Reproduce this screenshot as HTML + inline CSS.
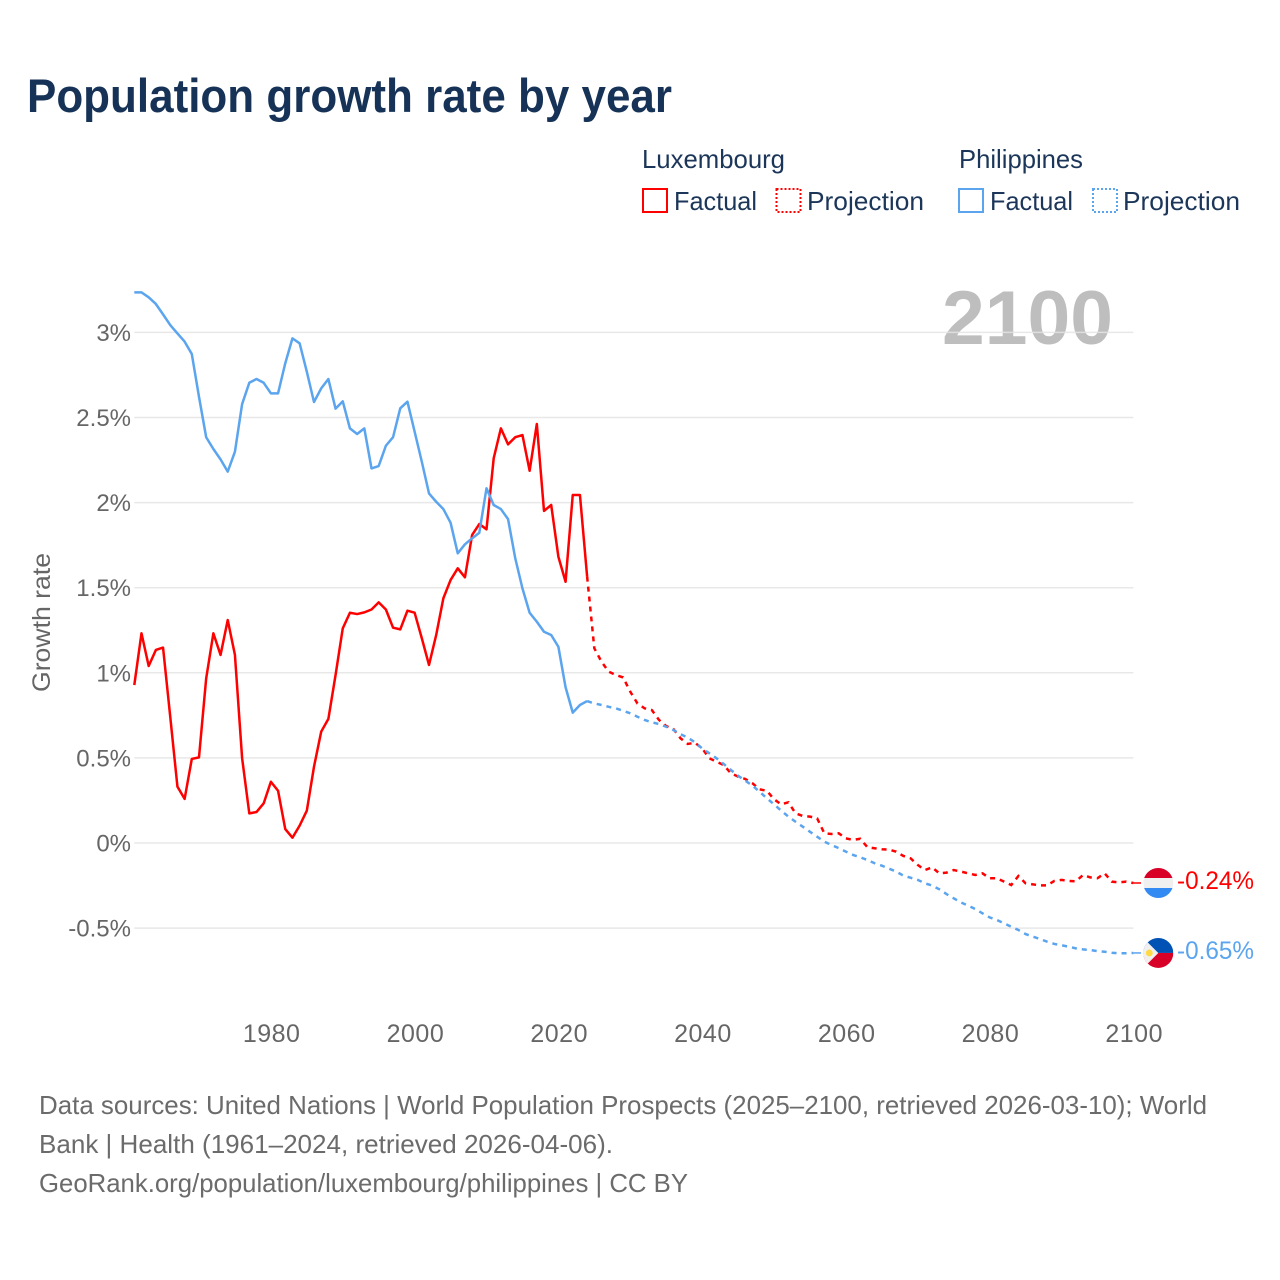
<!DOCTYPE html>
<html lang="en">
<head>
<meta charset="utf-8">
<title>Population growth rate by year</title>
<style>
html,body{margin:0;padding:0;background:#fff;width:1280px;height:1280px;overflow:hidden}
svg{display:block;font-family:"Liberation Sans",sans-serif}
</style>
</head>
<body>
<svg id="chart" xmlns="http://www.w3.org/2000/svg" width="1280" height="1280" viewBox="0 0 1280 1280">
  <defs>
    <clipPath id="flag-clip"><circle cx="0" cy="0" r="15"/></clipPath>
  </defs>
  <rect x="0" y="0" width="1280" height="1280" fill="#ffffff"/>
  <text x="27" y="112" font-size="47" font-weight="700" fill="#163256" textLength="645" lengthAdjust="spacingAndGlyphs">Population growth rate by year</text>

  <g font-size="26" fill="#1c3659">
    <text x="642" y="168" textLength="143" lengthAdjust="spacingAndGlyphs">Luxembourg</text>
    <text x="959" y="168" textLength="124" lengthAdjust="spacingAndGlyphs">Philippines</text>
    <rect x="643" y="189" width="24" height="23" fill="none" stroke="#ff0000" stroke-width="2"/>
    <text x="674" y="210" textLength="83" lengthAdjust="spacingAndGlyphs">Factual</text>
    <rect x="776.5" y="189" width="24" height="23" fill="none" stroke="#ff0000" stroke-width="2" stroke-dasharray="2 2"/>
    <text x="807" y="210" textLength="117" lengthAdjust="spacingAndGlyphs">Projection</text>
    <rect x="959" y="189" width="24" height="23" fill="none" stroke="#5ba4ee" stroke-width="2"/>
    <text x="990" y="210" textLength="83" lengthAdjust="spacingAndGlyphs">Factual</text>
    <rect x="1093" y="189" width="24" height="23" fill="none" stroke="#5ba4ee" stroke-width="2" stroke-dasharray="2 2"/>
    <text x="1123" y="210" textLength="117" lengthAdjust="spacingAndGlyphs">Projection</text>
  </g>

  <text x="942" y="344" font-size="76" font-weight="700" fill="#bebebe" textLength="171" lengthAdjust="spacingAndGlyphs">2100</text>

  <g id="grid"></g>
  <g id="yticks" font-size="24" fill="#666666" text-anchor="end"></g>
  <g id="xticks" font-size="25" fill="#666666" text-anchor="middle"></g>
  <text transform="translate(50 692) rotate(-90)" font-size="25" fill="#666666" textLength="139" lengthAdjust="spacingAndGlyphs">Growth rate</text>

  <g id="series"></g>

  <g id="flag-lux">
    <g clip-path="url(#flag-clip)">
      <rect x="-15" y="-15" width="30" height="30" fill="#f0f0f0"/>
      <rect x="-15" y="-15" width="30" height="10" fill="#d80027"/>
      <rect x="-15" y="5" width="30" height="10" fill="#338af3"/>
    </g>
  </g>
  <g id="flag-phl">
    <g clip-path="url(#flag-clip)">
      <rect x="-15" y="-15" width="30" height="15" fill="#0052b4"/>
      <rect x="-15" y="0" width="30" height="15" fill="#d80027"/>
      <polygon points="-15,-15 0,0 -15,15" fill="#f0f0f0"/>
      <circle cx="-9" cy="0" r="3.4" fill="#ffda44"/>
    </g>
  </g>
  <text id="label-lux" x="1177" font-size="25" fill="#ff0000" textLength="77" lengthAdjust="spacingAndGlyphs"></text>
  <text id="label-phl" x="1177" font-size="25" fill="#5ba4ee" textLength="77" lengthAdjust="spacingAndGlyphs"></text>

  <g font-size="26" fill="#6b6b6b">
    <text x="39" y="1114" textLength="1168" lengthAdjust="spacingAndGlyphs">Data sources: United Nations | World Population Prospects (2025–2100, retrieved 2026-03-10); World</text>
    <text x="39" y="1153" textLength="574" lengthAdjust="spacingAndGlyphs">Bank | Health (1961–2024, retrieved 2026-04-06).</text>
    <text x="39" y="1192" textLength="649" lengthAdjust="spacingAndGlyphs">GeoRank.org/population/luxembourg/philippines | CC BY</text>
  </g>
</svg>
<script>
const factualStartYear = 1961;
const projectionStartYear = 2024;
const yTickValues = [3, 2.5, 2, 1.5, 1, 0.5, 0, -0.5];
const yTickLabels = ['3%', '2.5%', '2%', '1.5%', '1%', '0.5%', '0%', '-0.5%'];
const xTickYears = [1980, 2000, 2020, 2040, 2060, 2080, 2100];
const endLabelLux = '-0.24%';
const endLabelPhl = '-0.65%';

const luxFactual = [0.928,1.232,1.04,1.134,1.148,0.742,0.331,0.259,0.494,0.503,0.967,1.232,1.105,1.31,1.105,0.498,0.174,0.182,0.233,0.36,0.307,0.082,0.031,0.102,0.19,0.448,0.654,0.729,0.987,1.261,1.353,1.345,1.355,1.372,1.414,1.372,1.265,1.255,1.365,1.353,1.203,1.046,1.222,1.438,1.545,1.614,1.561,1.81,1.874,1.843,2.26,2.436,2.342,2.384,2.397,2.187,2.462,1.951,1.986,1.682,1.535,2.045,2.045,1.565];
const luxProjection = [1.565,1.144,1.065,1.007,0.987,0.973,0.889,0.82,0.791,0.781,0.723,0.687,0.67,0.615,0.582,0.589,0.556,0.498,0.478,0.458,0.41,0.39,0.376,0.351,0.315,0.307,0.257,0.227,0.239,0.174,0.159,0.155,0.145,0.057,0.053,0.057,0.027,0.018,0.025,-0.025,-0.031,-0.037,-0.039,-0.051,-0.076,-0.09,-0.129,-0.159,-0.143,-0.178,-0.174,-0.159,-0.168,-0.178,-0.188,-0.178,-0.207,-0.207,-0.227,-0.247,-0.194,-0.237,-0.243,-0.249,-0.249,-0.223,-0.217,-0.223,-0.225,-0.188,-0.202,-0.207,-0.178,-0.227,-0.231,-0.227,-0.235];
const phlFactual = [3.235,3.235,3.206,3.167,3.106,3.043,2.994,2.946,2.873,2.622,2.384,2.315,2.254,2.182,2.299,2.579,2.704,2.726,2.704,2.642,2.642,2.818,2.965,2.936,2.769,2.591,2.671,2.726,2.552,2.595,2.436,2.403,2.436,2.201,2.215,2.334,2.384,2.554,2.593,2.417,2.24,2.054,2.005,1.962,1.882,1.702,1.755,1.79,1.823,2.084,1.986,1.962,1.903,1.673,1.496,1.353,1.3,1.241,1.222,1.153,0.915,0.766,0.811,0.834];
const phlProjection = [0.834,0.82,0.811,0.8,0.791,0.777,0.762,0.742,0.723,0.709,0.699,0.683,0.664,0.639,0.619,0.592,0.556,0.527,0.498,0.464,0.429,0.395,0.366,0.337,0.301,0.263,0.227,0.19,0.155,0.125,0.096,0.066,0.037,0.008,-0.012,-0.03,-0.051,-0.07,-0.084,-0.1,-0.119,-0.133,-0.151,-0.168,-0.192,-0.204,-0.217,-0.237,-0.25,-0.272,-0.3,-0.325,-0.349,-0.368,-0.388,-0.413,-0.437,-0.452,-0.472,-0.492,-0.511,-0.535,-0.55,-0.564,-0.58,-0.593,-0.601,-0.609,-0.619,-0.625,-0.629,-0.635,-0.639,-0.645,-0.648,-0.648,-0.646];

const NS = 'http://www.w3.org/2000/svg';
const xLeft = 134.3, xRight = 1133.4, yearMin = 1961, yearMax = 2100;
const yZero = 843, pxPerPct = 170.2;
function xScale(year) { return xLeft + (year - yearMin) * (xRight - xLeft) / (yearMax - yearMin); }
function yScale(value) { return yZero - value * pxPerPct; }

const gridGroup = document.getElementById('grid');
const yTickGroup = document.getElementById('yticks');
yTickValues.forEach(function (v, i) {
  const line = document.createElementNS(NS, 'line');
  
  
  line.setAttribute('x1', xLeft);
  line.setAttribute('x2', xRight);
  line.setAttribute('y1', yScale(v));
  line.setAttribute('y2', yScale(v));
  line.setAttribute('stroke', '#e4e4e4');
  line.setAttribute('stroke-opacity', '0.85');
  line.setAttribute('stroke-width', '1.5');
  gridGroup.appendChild(line);
  const t = document.createElementNS(NS, 'text');
  
  
  t.setAttribute('x', 131);
  t.setAttribute('y', yScale(v) + 8.5);
  t.textContent = yTickLabels[i];
  yTickGroup.appendChild(t);
});

const xTickGroup = document.getElementById('xticks');
xTickYears.forEach(function (year) {
  const t = document.createElementNS(NS, 'text');
  
  
  t.setAttribute('x', xScale(year) + 0.8);
  t.setAttribute('y', 1042);
  t.setAttribute('letter-spacing', '0.5');
  t.textContent = String(year);
  xTickGroup.appendChild(t);
});

function pathFor(values, startYear) {
  return values.map(function (v, i) {
    return (i ? 'L' : 'M') + xScale(startYear + i).toFixed(2) + ' ' + yScale(v).toFixed(2);
  }).join(' ');
}

const seriesGroup = document.getElementById('series');

const lineLuxFactual = document.createElementNS(NS, 'path');


lineLuxFactual.setAttribute('d', pathFor(luxFactual, factualStartYear));
lineLuxFactual.setAttribute('fill', 'none');
lineLuxFactual.setAttribute('stroke', '#ff0000');
lineLuxFactual.setAttribute('stroke-width', '2.5');
lineLuxFactual.setAttribute('stroke-linejoin', 'round');

const linePhlFactual = document.createElementNS(NS, 'path');


linePhlFactual.setAttribute('d', pathFor(phlFactual, factualStartYear));
linePhlFactual.setAttribute('fill', 'none');
linePhlFactual.setAttribute('stroke', '#5ba4ee');
linePhlFactual.setAttribute('stroke-width', '2.5');
linePhlFactual.setAttribute('stroke-linejoin', 'round');

const lineLuxProjection = document.createElementNS(NS, 'path');


lineLuxProjection.setAttribute('d', pathFor(luxProjection, projectionStartYear));
lineLuxProjection.setAttribute('fill', 'none');
lineLuxProjection.setAttribute('stroke', '#ff0000');
lineLuxProjection.setAttribute('stroke-width', '2.5');
lineLuxProjection.setAttribute('stroke-dasharray', '5 5');

const linePhlProjection = document.createElementNS(NS, 'path');


linePhlProjection.setAttribute('d', pathFor(phlProjection, projectionStartYear));
linePhlProjection.setAttribute('fill', 'none');
linePhlProjection.setAttribute('stroke', '#5ba4ee');
linePhlProjection.setAttribute('stroke-width', '2.5');
linePhlProjection.setAttribute('stroke-dasharray', '5 5');

seriesGroup.appendChild(lineLuxProjection);
seriesGroup.appendChild(linePhlProjection);
seriesGroup.appendChild(lineLuxFactual);
seriesGroup.appendChild(linePhlFactual);

const luxEnd = luxProjection[luxProjection.length - 1];
const phlEnd = phlProjection[phlProjection.length - 1];

const connectorLux = document.createElementNS(NS, 'line');


connectorLux.setAttribute('x1', xScale(2100));
connectorLux.setAttribute('x2', 1141);
connectorLux.setAttribute('y1', yScale(luxEnd));
connectorLux.setAttribute('y2', yScale(luxEnd));
connectorLux.setAttribute('stroke', '#ff0000');
connectorLux.setAttribute('stroke-width', '1.5');
seriesGroup.appendChild(connectorLux);

const connectorPhl = document.createElementNS(NS, 'line');


connectorPhl.setAttribute('x1', xScale(2100));
connectorPhl.setAttribute('x2', 1141);
connectorPhl.setAttribute('y1', yScale(phlEnd));
connectorPhl.setAttribute('y2', yScale(phlEnd));
connectorPhl.setAttribute('stroke', '#5ba4ee');
connectorPhl.setAttribute('stroke-width', '1.5');
seriesGroup.appendChild(connectorPhl);

document.getElementById('flag-lux').setAttribute('transform', 'translate(1158.3 ' + yScale(luxEnd) + ')');
document.getElementById('flag-phl').setAttribute('transform', 'translate(1158.3 ' + yScale(phlEnd) + ')');

const labelLux = document.getElementById('label-lux');
labelLux.setAttribute('y', yScale(luxEnd) + 6);
labelLux.textContent = endLabelLux;
const labelPhl = document.getElementById('label-phl');
labelPhl.setAttribute('y', yScale(phlEnd) + 6);
labelPhl.textContent = endLabelPhl;
</script>
</body>
</html>
